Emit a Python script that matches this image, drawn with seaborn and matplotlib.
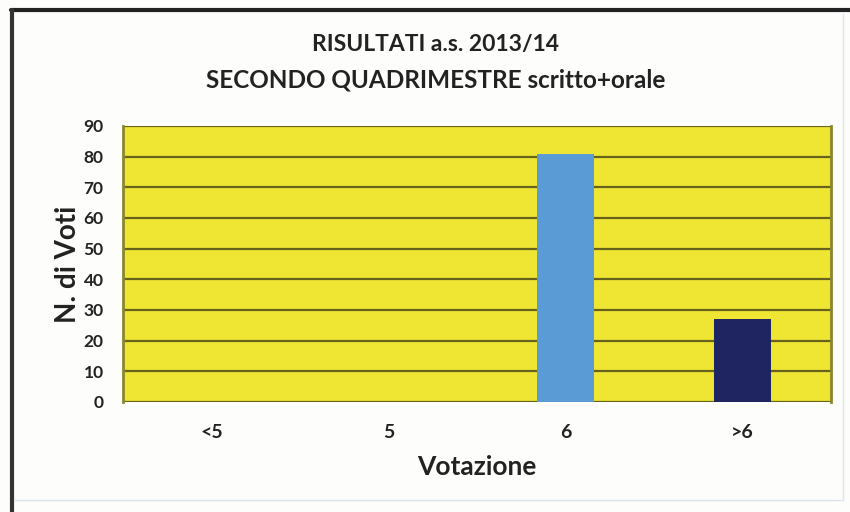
import matplotlib
matplotlib.use("Agg")
import matplotlib.pyplot as plt
import seaborn as sns
import pandas as pd
from matplotlib.lines import Line2D

categories = ["<5", "5", "6", ">6"]
values = [0, 0, 81, 27]
bar_colors = ["#5B9BD5", "#5B9BD5", "#5B9BD5", "#1F2560"]
title_lines = ["RISULTATI a.s. 2013/14", "SECONDO QUADRIMESTRE scritto+orale"]
y_ticks = [0, 10, 20, 30, 40, 50, 60, 70, 80, 90]

sns.set_theme(style="white")
plt.rcParams['font.family'] = ['Lato', 'DejaVu Sans']
plt.rcParams['font.weight'] = 'bold'

df = pd.DataFrame({"Votazione": categories, "N": values})

fig = plt.figure(figsize=(8.5, 5.12), dpi=100)
fig.patch.set_facecolor("#FDFDFB")
W, H = 850, 512
ax = fig.add_axes([123 / W, 1 - 402 / H, (831 - 123) / W, (402 - 126) / H])
ax.set_facecolor("#EEE632")

sns.barplot(data=df, x="Votazione", y="N", hue="Votazione", palette=bar_colors,
            saturation=1, legend=False, width=0.32, ax=ax, zorder=3, edgecolor="none")

ax.set_ylim(0, 90)
ax.set_yticks(y_ticks, labels=[str(v) for v in y_ticks], fontweight="bold", fontsize=12.5)
ax.yaxis.grid(True, color="#66631C", linewidth=1.6, zorder=1)
ax.set_axisbelow(True)
ax.set_xlim(-0.5, 3.5)

for s in ["top", "bottom"]:
    ax.spines[s].set_visible(False)
for s in ["left", "right"]:
    ax.spines[s].set_color("#8A8530")
    ax.spines[s].set_linewidth(2)

ax.tick_params(axis="y", length=0, pad=14, colors="#222222")
ax.tick_params(axis="x", length=0, pad=16, colors="#222222", labelsize=14)

ax.set_xlabel("Votazione", fontsize=19, fontweight="bold", color="#222222", labelpad=10)
ax.set_ylabel("N. di Voti", fontsize=20, fontweight="bold", color="#222222", labelpad=2)

fig.text(436 / W, 1 - 45 / H, title_lines[0], ha="center", va="center",
         fontsize=16.5, fontweight="bold", color="#222222")
fig.text(436 / W, 1 - 80 / H, title_lines[1], ha="center", va="center",
         fontsize=17.5, fontweight="bold", color="#222222")

# frame around the figure
fig.add_artist(Line2D([11 / W, 1], [1 - 10 / H, 1 - 10 / H], color="#222222", linewidth=3, transform=fig.transFigure))
fig.add_artist(Line2D([12 / W, 12 / W], [0, 1 - 10 / H], color="#333333", linewidth=3, transform=fig.transFigure))
fig.add_artist(Line2D([843 / W, 843 / W], [1 - 500 / H, 1 - 14 / H], color="#DDE3EA", linewidth=1, transform=fig.transFigure))
fig.add_artist(Line2D([14 / W, 843 / W], [1 - 500 / H, 1 - 500 / H], color="#DDE3EA", linewidth=1, transform=fig.transFigure))

fig.canvas.draw()
for lab in ax.get_xticklabels():
    lab.set_fontweight("bold")
    lab.set_fontsize(14)

fig.savefig("out.png", dpi=100, facecolor=fig.get_facecolor())
